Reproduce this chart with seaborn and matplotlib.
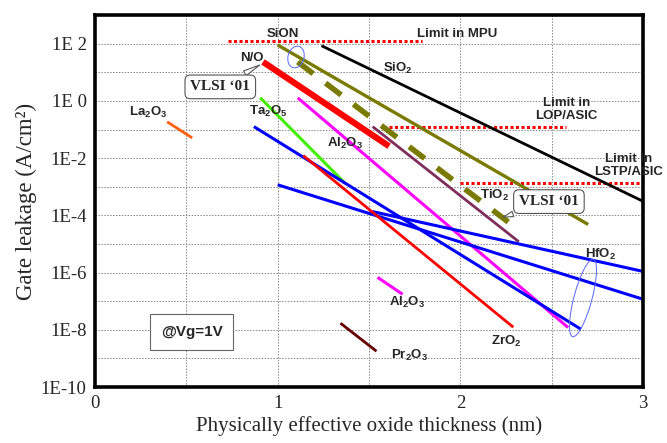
import numpy as np
import pandas as pd
import seaborn as sns
import matplotlib.pyplot as plt
from matplotlib.patches import Ellipse
from matplotlib.transforms import IdentityTransform

# segment end points: thickness (nm) and gate leakage (A/cm2)
limit_mpu_x, limit_mpu_y = [0.73, 1.79], [1.2e2, 1.2e2]
limit_lop_x, limit_lop_y = [1.61, 2.58], [0.12, 0.12]
limit_lstp_x, limit_lstp_y = [2.00, 3.00], [1.3e-3, 1.3e-3]
sio2_x, sio2_y = [1.24, 3.00], [85, 3.1e-4]
sion_x, sion_y = [1.00, 2.70], [90, 4.8e-5]
sion_vlsi_x, sion_vlsi_y = [1.11, 2.28], [23, 4.8e-5]
no_x, no_y = [0.92, 1.61], [23, 2.6e-2]
tio2_x, tio2_y = [1.52, 2.32], [0.126, 1.2e-5]
al2o3_x, al2o3_y = [1.11, 2.59], [1.28, 1.2e-8]
al2o3_b_x, al2o3_b_y = [1.547, 1.684], [6.8e-7, 1.74e-7]
ta2o5_x, ta2o5_y = [0.905, 1.37], [1.28, 1.3e-3]
hfo2_a_x, hfo2_a_y = [0.87, 2.66], [0.126, 1.05e-8]
hfo2_b_x, hfo2_b_y = [1.00, 3.00], [1.17e-3, 1.17e-7]
hfo2_c_x, hfo2_c_y = [1.52, 3.00], [1.35e-4, 1.1e-6]
zro2_x, zro2_y = [1.14, 2.29], [1.23e-2, 1.23e-8]
la2o3_x, la2o3_y = [0.395, 0.532], [0.186, 0.051]
pr2o3_x, pr2o3_y = [1.344, 1.541], [1.7e-8, 1.78e-9]

decades = list(range(-10, 4))
ytick_labels = ['1E-10', '', '1E-8', '', '1E-6', '', '1E-4', '', '1E-2', '', '1E 0', '', '1E 2', '']

sns.set_style('white')
plt.rcParams['font.family'] = ['Liberation Sans', 'DejaVu Sans']
plt.rcParams['mathtext.fontset'] = 'custom'
plt.rcParams['mathtext.rm'] = 'Liberation Sans:bold'
plt.rcParams['mathtext.default'] = 'rm'

fig = plt.figure(figsize=(6.67, 4.43), dpi=100)
ax = fig.add_axes([0.1424, 0.1264, 0.8216, 0.8396])

def seg(x, y, color, lw, ls='-', dashes=None):
    l = sns.lineplot(x=x, y=y, ax=ax, color=color, lw=lw, ls=ls,
                     solid_capstyle='butt', dash_capstyle='butt')
    if dashes is not None:
        l.lines[-1].set_dashes(dashes)

red_dot = (1.0, 0.8)
seg(limit_mpu_x, limit_mpu_y, '#ff0000', 2.2, dashes=red_dot)
seg(limit_lop_x, limit_lop_y, '#ff0000', 2.2, dashes=red_dot)
seg(limit_lstp_x, limit_lstp_y, '#ff0000', 2.2, dashes=red_dot)
seg(sio2_x, sio2_y, 'black', 2.0)
seg(sion_x, sion_y, '#7a7a00', 2.4)
seg(sion_vlsi_x, sion_vlsi_y, '#7a7a00', 4.0, dashes=(3.5, 2.8))
seg(no_x, no_y, '#ff0000', 4.5)
seg(tio2_x, tio2_y, '#7f2d5c', 2.0)
seg(al2o3_x, al2o3_y, '#ff00ff', 2.2)
seg(al2o3_b_x, al2o3_b_y, '#ff00ff', 2.2)
seg(ta2o5_x, ta2o5_y, '#44ee00', 2.2)
seg(hfo2_a_x, hfo2_a_y, '#0000ff', 2.2)
seg(hfo2_b_x, hfo2_b_y, '#0000ff', 2.2)
seg(hfo2_c_x, hfo2_c_y, '#0000ff', 2.2)
seg(zro2_x, zro2_y, '#ff0000', 2.0)
seg(la2o3_x, la2o3_y, '#ff6010', 2.0)
seg(pr2o3_x, pr2o3_y, '#660000', 2.0)

ax.set_yscale('log')
ax.set_xlim(0, 3)
ax.set_ylim(1e-10, 1e3)
ax.set_yticks([10.0 ** d for d in decades])
ax.set_yticklabels(ytick_labels)
ax.yaxis.set_minor_locator(plt.NullLocator())
ax.set_xticks([0, 0.5, 1, 1.5, 2, 2.5, 3])
ax.set_xticklabels(['0', '', '1', '', '2', '', '3'])
ax.grid(True, color='#888888', ls=(0, (1.5, 1.5)), lw=0.7)
ax.tick_params(direction='in', length=4, width=0.8, pad=6, labelsize=13.5)
for t in ax.get_xticklabels() + ax.get_yticklabels():
    t.set_fontfamily('Liberation Serif')
for s in ax.spines.values():
    s.set_linewidth(2.6)
    s.set_color('black')

ax.set_xlabel('Physically effective oxide thickness (nm)', family='Liberation Serif',
              fontsize=15, labelpad=3)
ax.set_ylabel('Gate leakage (A/cm²)', family='Liberation Serif', fontsize=16.5, labelpad=3)

lab = dict(fontsize=9.5, fontweight='bold', ha='center', va='center')
ax.text(1.03, 10 ** 2.34, 'SiON', **lab)
ax.text(1.98, 10 ** 2.34, 'Limit in MPU', **lab)
ax.text(1.66, 10 ** 1.15, 'SiO$_2$', **lab)
ax.text(0.86, 10 ** 1.50, 'N/O', **lab)
ax.text(0.29, 10 ** -0.40, 'La$_2$O$_3$', **lab)
ax.text(0.95, 10 ** -0.36, 'Ta$_2$O$_5$', **lab)
ax.text(1.37, 10 ** -1.48, 'Al$_2$O$_3$', **lab)
ax.text(2.58, 10 ** -0.31, 'Limit in\nLOP/ASIC', linespacing=1.1, **lab)
ax.text(2.92, 10 ** -2.26, 'Limit in\nLSTP/ASIC', linespacing=1.1, clip_on=False, **lab)
ax.text(2.19, 10 ** -3.32, 'TiO$_2$', **lab)
ax.text(2.77, 10 ** -5.35, 'HfO$_2$', **lab)
ax.text(1.71, 10 ** -7.05, 'Al$_2$O$_3$', **lab)
ax.text(2.25, 10 ** -8.41, 'ZrO$_2$', **lab)
ax.text(1.72, 10 ** -8.90, 'Pr$_2$O$_3$', **lab)

ax.text(0.53, 10 ** -8.08, '@Vg=1V', fontsize=11, fontweight='bold', ha='center', va='center',
        bbox=dict(boxstyle='square,pad=0.7', fc='white', ec='#666666', lw=0.8))

bubble = dict(boxstyle='round,pad=0.35', fc='white', ec='#555555', lw=0.8)
wedge = dict(arrowstyle='wedge,tail_width=0.35', fc='white', ec='#555555', lw=0.8)
ax.annotate('VLSI ‘01', xy=(0.915, 10 ** 1.30), xytext=(0.686, 10 ** 0.49),
            family='Liberation Serif', fontsize=11, fontweight='bold',
            ha='center', va='center', bbox=bubble, arrowprops=wedge)
ax.annotate('VLSI ‘01', xy=(2.22, 10 ** -4.1), xytext=(2.485, 10 ** -3.52),
            family='Liberation Serif', fontsize=11, fontweight='bold',
            ha='center', va='center', bbox=bubble, arrowprops=wedge)

# hand-drawn blue circles (pixel positions)
H = 443
fig.patches.append(Ellipse((296, H - 57), 16, 22, angle=-15, fill=False, ec='#5566ff',
                           lw=0.7, transform=IdentityTransform()))
fig.patches.append(Ellipse((583, H - 298), 80, 18, angle=75, fill=False, ec='#5566ff',
                           lw=0.7, transform=IdentityTransform()))

fig.savefig('out.png', dpi=100)
